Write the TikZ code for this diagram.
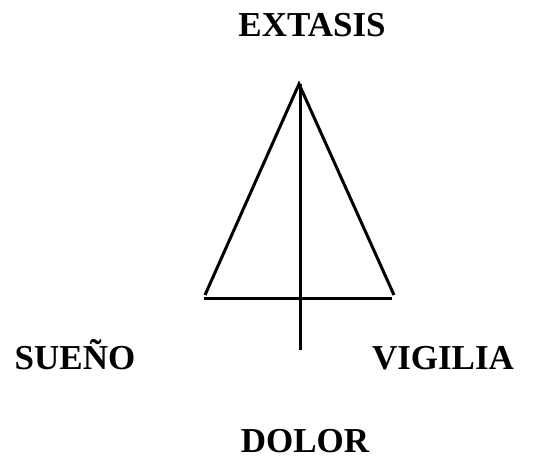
\documentclass[tikz,border=0pt]{standalone}
\usepackage{fontspec}
\setmainfont{Liberation Serif}
\begin{document}
\begin{tikzpicture}[x=1pt,y=-1pt,
  lbl/.style={font=\bfseries\fontsize{35}{42}\selectfont, inner sep=0pt, anchor=base},
  stroke/.style={line width=3pt}]
\useasboundingbox (0,0) rectangle (534,461);
\node[lbl] (ext) at (312,36) {EXTASIS};
\node[lbl] (sue) at (75,369) {SUEÑO};
\node[lbl] (vig) at (443,369) {VIGILIA};
\node[lbl] (dol) at (305,452) {DOLOR};
\coordinate (apex) at (299,84);
\coordinate (lf) at (205,295);
\coordinate (rf) at (394,295);
\coordinate (hl) at (204,298);
\coordinate (hr) at (392,298);
\coordinate (vt) at (300,84);
\coordinate (vb) at (300,350);
\draw[stroke] (lf) -- (apex) -- (rf);
\draw[stroke] (hl) -- (hr);
\draw[stroke] (vt) -- (vb);
\end{tikzpicture}
\end{document}
